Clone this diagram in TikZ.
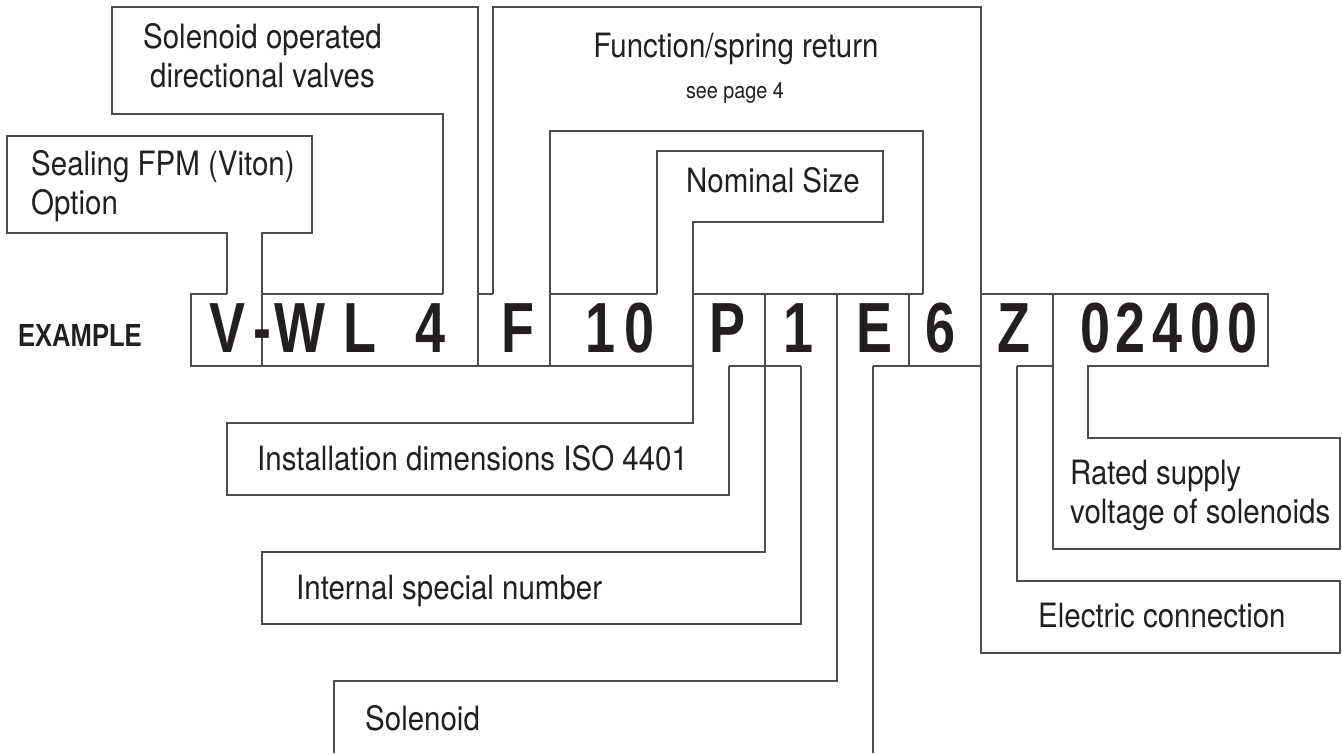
\documentclass[tikz,border=0pt]{standalone}
\usepackage{fontspec}
\setmainfont{TeX Gyre Heros}
\newfontfamily\labfont[FakeStretch=0.88]{TeX Gyre Heros}
\newfontfamily\codefont[FakeStretch=0.76]{Liberation Sans}
\newfontfamily\exfont[FakeStretch=0.8]{Liberation Sans}
\definecolor{ink}{HTML}{231F20}
\definecolor{rulec}{HTML}{4D4D4D}
\begin{document}
\begin{tikzpicture}[x=1pt,y=-1pt,
  ln/.style={draw=rulec,line width=1.2pt},
  lab/.style={inner sep=0pt,text=ink,font=\labfont\fontsize{33.5}{39}\selectfont},
  small/.style={inner sep=0pt,text=ink,font=\labfont\fontsize{22.5}{26}\selectfont},
  code/.style={inner sep=0pt,text=ink,anchor=base,font=\codefont\bfseries\fontsize{71}{71}\selectfont},
  extext/.style={inner sep=0pt,text=ink,font=\exfont\bfseries\fontsize{32}{32}\selectfont}]
\useasboundingbox (0,0) rectangle (1342,753);

% ---- outlines above the code row
\draw[ln] (227,294) -- (227,233) -- (7,233) -- (7,136) -- (312,136) -- (312,233) -- (262,233) -- (262,366);
\draw[ln] (443,294) -- (443,114) -- (112,114) -- (112,7) -- (478,7) -- (478,366);
\draw[ln] (493,294) -- (493,7) -- (981,7) -- (981,653) -- (1340,653) -- (1340,581) -- (1017,581) -- (1017,366);
\draw[ln] (550,366) -- (550,131) -- (923,131) -- (923,294);
\draw[ln] (657,294) -- (657,151) -- (883,151) -- (883,222) -- (693,222) -- (693,423) -- (227,423) -- (227,495) -- (729,495) -- (729,366);

% ---- code row frame
\draw[ln] (227,294) -- (191,294) -- (191,366) -- (693,366);
\draw[ln] (262,294) -- (443,294);
\draw[ln] (478,294) -- (493,294);
\draw[ln] (550,294) -- (657,294);
\draw[ln] (693,294) -- (923,294);
\draw[ln] (729,366) -- (801,366);
\draw[ln] (873,366) -- (981,366);
\draw[ln] (1017,366) -- (1053,366);
\draw[ln] (909,294) -- (909,366);
\draw[ln] (981,294) -- (1268,294) -- (1268,366) -- (1088,366) -- (1088,438) -- (1340,438) -- (1340,549) -- (1053,549) -- (1053,294);

% ---- outlines below the code row
\draw[ln] (765,294) -- (765,552) -- (262,552) -- (262,624) -- (801,624) -- (801,366);
\draw[ln] (837,294) -- (837,681) -- (334,681) -- (334,753);
\draw[ln] (873,366) -- (873,753);

% ---- labels
\node[extext,anchor=base east] (example) at (142,346) {EXAMPLE};
\node[lab,anchor=base west] (sealing) at (31,175) {\begin{tabular}[t]{@{}l@{}}Sealing FPM (Viton)\\Option\end{tabular}};
\node[lab,anchor=base] (solop) at (262.5,48) {\begin{tabular}[t]{@{}c@{}}Solenoid operated\\directional valves\end{tabular}};
\node[lab,anchor=base] (func) at (736,57) {Function/spring return};
\node[small,anchor=base] (page) at (735,98) {see page 4};
\node[lab,anchor=base west] (nominal) at (686,192) {Nominal Size};
\node[lab,anchor=base west] (install) at (257,470) {Installation dimensions ISO 4401};
\node[lab,anchor=base west] (internal) at (296,599) {Internal special number};
\node[lab,anchor=base west] (solenoid) at (365,730) {Solenoid};
\node[lab,anchor=base west] (electric) at (1038,627) {Electric connection};
\node[lab,anchor=base west] (rated) at (1070,484) {\begin{tabular}[t]{@{}l@{}}Rated supply\\voltage of solenoids\end{tabular}};

% ---- code characters
\node[code] (cV) at (227,352) {V};
\node[code] (cdash) at (262,352) {-};
\node[code] (cW) at (300,352) {W};
\node[code] (cL) at (360,352) {L};
\node[code] (c4) at (431,352) {4};
\node[code] (cF) at (518,352) {F};
\node[code] (c1a) at (600,352) {1};
\node[code] (c0a) at (639,352) {0};
\node[code] (cP) at (727,352) {P};
\node[code] (c1b) at (798,352) {1};
\node[code] (cE) at (874,352) {E};
\node[code] (c6) at (940,352) {6};
\node[code] (cZ) at (1014,352) {Z};
\node[code] (d1) at (1095,352) {0};
\node[code] (d2) at (1130.5,352) {2};
\node[code] (d3) at (1167.5,352) {4};
\node[code] (d4) at (1205.5,352) {0};
\node[code] (d5) at (1242.5,352) {0};
\end{tikzpicture}
\end{document}
